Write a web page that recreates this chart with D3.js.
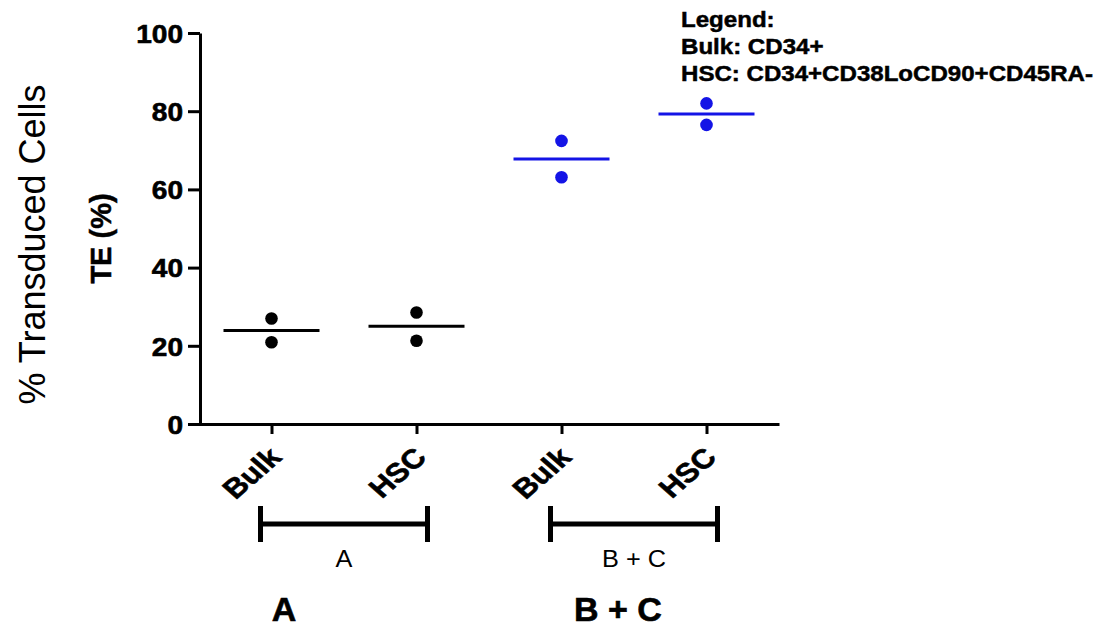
<!DOCTYPE html>
<html>
<head>
<meta charset="utf-8">
<script src="https://cdn.jsdelivr.net/npm/d3@7"></script>
<style>
  html, body { margin: 0; padding: 0; background: #fff; }
  svg { display: block; font-family: "Liberation Sans", Arial, Helvetica, sans-serif; }
</style>
</head>
<body>
<svg id="chart" width="1105" height="627"></svg>
<script>
// ---- data ----
const groups = ["A", "B + C"];
const cellTypes = ["Bulk", "HSC"];
const categories = ["A|Bulk", "A|HSC", "B + C|Bulk", "B + C|HSC"];
const replicateValues = [[27.0, 20.9], [28.5, 21.3], [72.4, 63.1], [82.0, 76.5]];
const meanValues = [23.9, 25.0, 67.8, 79.3];
const categoryGroup = ["A", "A", "B + C", "B + C"];
const yTicks = [0, 20, 40, 60, 80, 100];
const legendLines = ["Legend:", "Bulk: CD34+", "HSC: CD34+CD38LoCD90+CD45RA-"];

// ---- drawing ----
const svg = d3.select("#chart");
const groupColor = d3.scaleOrdinal().domain(groups).range(["#000000", "#1414e6"]);

const x = d3.scalePoint().domain(categories).range([199, 779]).padding(0.5);
const y = d3.scaleLinear().domain([0, 100]).range([424, 33]);

// Y axis
const yAxis = svg.append("g")
  .attr("transform", "translate(200,0)")
  .call(d3.axisLeft(y).tickValues(yTicks).tickSizeInner(12).tickSizeOuter(0));
yAxis.select(".domain").attr("stroke", "#000").attr("stroke-width", 3);
yAxis.selectAll(".tick line").attr("stroke", "#000").attr("stroke-width", 3);
yAxis.selectAll(".tick text")
  .attr("x", 0).attr("dy", "0.36em")
  .attr("transform", "translate(-17,0) scale(1.08,1)")
  .attr("fill", "#000").attr("stroke", "#000").attr("stroke-width", 0.6)
  .style("font-size", "26px").style("font-weight", "bold")
  .style("font-family", "'Liberation Sans', Arial, sans-serif");

// X axis
const xAxis = svg.append("g")
  .attr("transform", "translate(0,424)")
  .call(d3.axisBottom(x).tickSizeInner(10).tickSizeOuter(0).tickFormat(d => d.split("|")[1]));
xAxis.select(".domain").attr("stroke", "#000").attr("stroke-width", 3);
xAxis.selectAll(".tick line").attr("stroke", "#000").attr("stroke-width", 3);
xAxis.selectAll(".tick text")
  .attr("x", 0).attr("y", 0).attr("dy", 0)
  .attr("text-anchor", "end")
  .attr("transform", "translate(11,35) scale(1.15,1) rotate(-45)")
  .attr("fill", "#000").attr("stroke", "#000").attr("stroke-width", 0.6)
  .style("font-size", "27px").style("font-weight", "bold")
  .style("font-family", "'Liberation Sans', Arial, sans-serif");

// Y titles
svg.append("text")
  .attr("transform", `translate(45,${(y(0) + y(100)) / 2 + 16}) rotate(-90)`)
  .attr("text-anchor", "middle")
  .style("font-size", "36px")
  .attr("fill", "#000")
  .text("% Transduced Cells");
svg.append("text")
  .attr("transform", `translate(111,${(y(0) + y(100)) / 2 + 10}) rotate(-90)`)
  .attr("text-anchor", "middle")
  .attr("stroke", "#000").attr("stroke-width", 0.5)
  .style("font-size", "29px").style("font-weight", "bold")
  .attr("fill", "#000")
  .text("TE (%)");

// Mean lines
svg.append("g").selectAll("line")
  .data(categories)
  .join("line")
  .attr("x1", d => x(d) - 48)
  .attr("x2", d => x(d) + 48)
  .attr("y1", (d, i) => y(meanValues[i]))
  .attr("y2", (d, i) => y(meanValues[i]))
  .attr("stroke", (d, i) => groupColor(categoryGroup[i]))
  .attr("stroke-width", 3);

// Points
const pts = [];
categories.forEach((c, i) => replicateValues[i].forEach(v => pts.push({ c, v, g: categoryGroup[i] })));
svg.append("g").selectAll("circle")
  .data(pts)
  .join("circle")
  .attr("cx", d => x(d.c))
  .attr("cy", d => y(d.v))
  .attr("r", 6.3)
  .attr("fill", d => groupColor(d.g));

// Group brackets and labels
groups.forEach((g, gi) => {
  const first = x(g + "|" + cellTypes[0]);
  const last = x(g + "|" + cellTypes[cellTypes.length - 1]);
  const x0 = first - 11, x1 = last + 11;
  const b = svg.append("g").attr("stroke", "#000").attr("stroke-width", 5);
  b.append("line").attr("x1", x0).attr("x2", x1).attr("y1", 524).attr("y2", 524);
  b.append("line").attr("x1", x0).attr("x2", x0).attr("y1", 506).attr("y2", 542);
  b.append("line").attr("x1", x1).attr("x2", x1).attr("y1", 506).attr("y2", 542);
  svg.append("text")
    .attr("transform", `translate(${(x0 + x1) / 2},567) scale(1.1,1)`)
    .attr("text-anchor", "middle")
    .style("font-size", "23px")
    .attr("fill", "#000")
    .text(g);
  const bigX = gi === 0 ? (x0 + x1) / 2 - 60 : (x0 + x1) / 2 - 16;
  svg.append("text")
    .attr("x", bigX).attr("y", 621)
    .attr("text-anchor", "middle")
    .attr("stroke", "#000").attr("stroke-width", 0.6)
    .style("font-size", "34px").style("font-weight", "bold")
    .attr("fill", "#000")
    .text(g);
});

// Legend text
svg.append("g").selectAll("text")
  .data(legendLines)
  .join("text")
  .attr("transform", (d, i) => `translate(681,${27 + i * 27}) scale(1.07,1)`)
  .attr("stroke", "#000").attr("stroke-width", 0.5)
  .style("font-size", "22.5px").style("font-weight", "bold")
  .attr("fill", "#000")
  .text(d => d);
</script>
</body>
</html>
